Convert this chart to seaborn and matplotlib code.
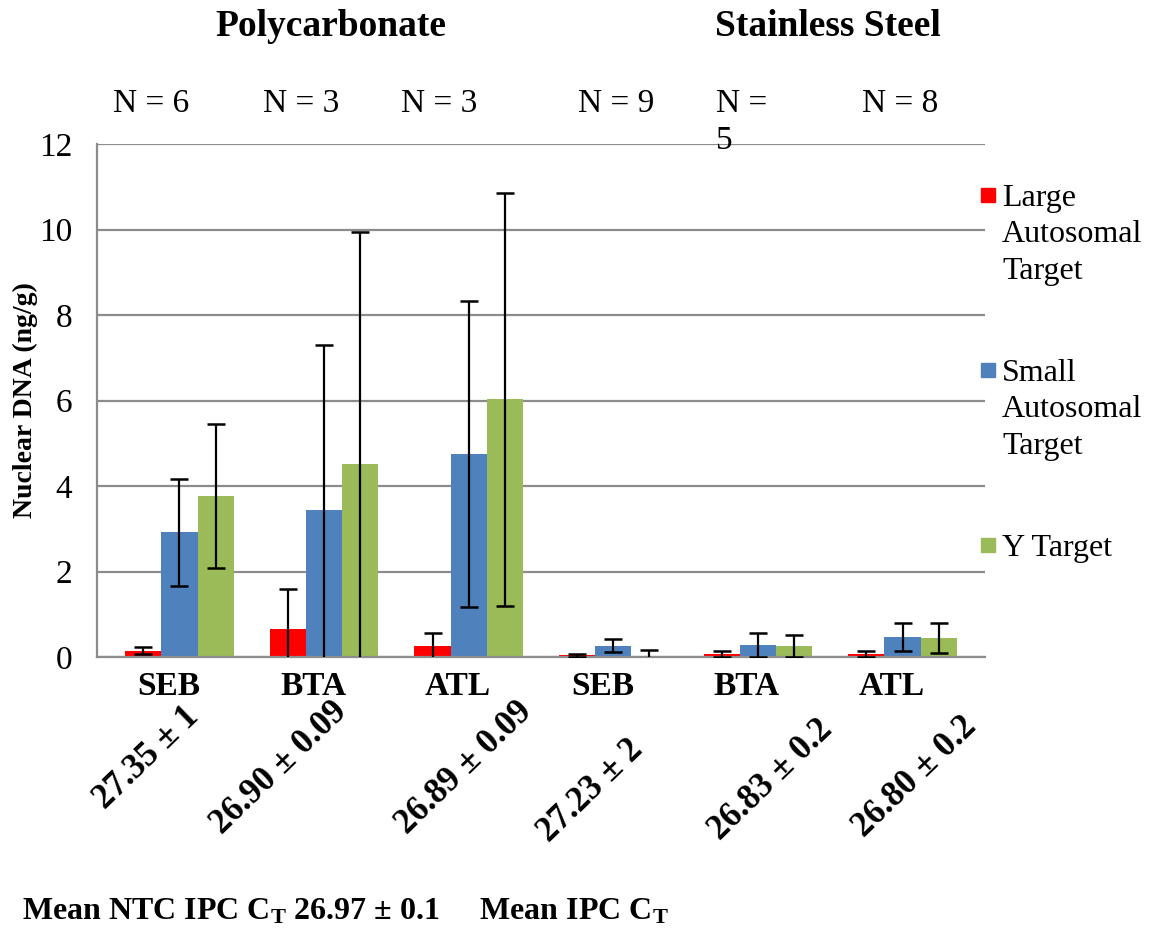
import numpy as np
import pandas as pd
import matplotlib
matplotlib.use("Agg")
import matplotlib.pyplot as plt
import matplotlib.transforms as mtransforms
from matplotlib.patches import Rectangle
import seaborn as sns

# ---------------- data ----------------
materials = ["Polycarbonate", "Stainless Steel"]
groups = ["SEB", "BTA", "ATL", "SEB", "BTA", "ATL"]
n_labels = ["N = 6", "N = 3", "N = 3", "N = 9", "N =\n5", "N = 8"]
ct_labels = ["27.35 ± 1", "26.90 ± 0.09", "26.89 ± 0.09",
             "27.23 ± 2", "26.83 ± 0.2", "26.80 ± 0.2"]
series = ["Large\nAutosomal\nTarget", "Small\nAutosomal\nTarget", "Y Target"]
large = [0.15, 0.65, 0.26, 0.04, 0.07, 0.07]
large_err = [0.08, 0.94, 0.30, 0.04, 0.08, 0.08]
small = [2.92, 3.44, 4.75, 0.26, 0.28, 0.47]
small_err = [1.25, 3.86, 3.58, 0.15, 0.27, 0.32]
ytarget = [3.77, 4.51, 6.03, 0.02, 0.26, 0.44]
ytarget_err = [1.69, 5.43, 4.83, 0.14, 0.26, 0.35]
y_ticks = [0, 2, 4, 6, 8, 10, 12]
y_label = "Nuclear DNA (ng/g)"
footer = "Mean NTC IPC C$_\\mathrm{T}$ 26.97 ± 0.1     Mean IPC C$_\\mathrm{T}$"
colors = ["#FF0000", "#4F81BD", "#9BBB59"]

# ---------------- style ----------------
sns.set_theme(style="white")
plt.rcParams["font.family"] = ["Liberation Serif", "DejaVu Serif"]
plt.rcParams["text.color"] = "black"
plt.rcParams["axes.labelcolor"] = "black"
plt.rcParams["xtick.color"] = "black"
plt.rcParams["ytick.color"] = "black"
plt.rcParams["mathtext.fontset"] = "custom"
plt.rcParams["mathtext.rm"] = "Liberation Serif:bold"
plt.rcParams["mathtext.bf"] = "Liberation Serif:bold"
plt.rcParams["mathtext.it"] = "Liberation Serif:bold"

W, H = 1152, 932
fig = plt.figure(figsize=(W / 100, H / 100), dpi=100)
fig.patch.set_facecolor("white")
ax = fig.add_axes([97 / W, 1 - 657 / H, 888 / W, 513 / H])

keys = [f"g{i}" for i in range(len(groups))]
df = pd.DataFrame({
    "group": keys * 3,
    "series": np.repeat(series, len(keys)),
    "value": large + small + ytarget,
})
sns.barplot(data=df, x="group", y="value", hue="series", order=keys,
            hue_order=series, palette=colors, saturation=1, width=0.75,
            errorbar=None, legend=False, ax=ax, zorder=2, linewidth=0)

for cont, errs in zip(ax.containers, [large_err, small_err, ytarget_err]):
    xs = [b.get_x() + b.get_width() / 2 for b in cont]
    ys = [b.get_height() for b in cont]
    ax.errorbar(xs, ys, yerr=errs, fmt="none", ecolor="black",
                elinewidth=1.6, capsize=6.5, capthick=1.8, zorder=3)

ax.set_xlim(-0.57, len(keys) - 1 + 0.57)
ax.set_ylim(0, 12)
ax.set_yticks(y_ticks)
ax.set_yticklabels([str(t) for t in y_ticks], fontsize=24)
ax.set_xticks(range(len(keys)))
ax.set_xticklabels(groups, fontsize=24, fontweight="bold")
ax.tick_params(axis="y", length=0, pad=18)
ax.tick_params(axis="x", length=0, pad=10)
off = mtransforms.ScaledTranslation(-11 / 100, 0, fig.dpi_scale_trans)
for lbl in ax.get_xticklabels():
    lbl.set_transform(lbl.get_transform() + off)
ax.set_xlabel("")
ax.set_ylabel("")
ax.yaxis.grid(True, color="#8C8C8C", linewidth=1.6)
ax.set_axisbelow(True)
for s in ["top", "right"]:
    ax.spines[s].set_visible(False)
for s in ["left", "bottom"]:
    ax.spines[s].set_color("#8C8C8C")
    ax.spines[s].set_linewidth(1.6)

# ---------------- annotations ----------------
def fx(px):
    return px / W

def fy(py):
    return 1 - py / H

fig.text(fx(331), fy(27), materials[0], ha="center", va="center",
         fontsize=27, fontweight="bold")
fig.text(fx(828), fy(27), materials[1], ha="center", va="center",
         fontsize=27, fontweight="bold")

n_x = [151, 301, 439, 616, 716, 900]
for i, (lab, x) in enumerate(zip(n_labels, n_x)):
    if "\n" in lab:
        fig.text(fx(x), fy(88), lab, ha="left", va="top", fontsize=24,
                 linespacing=1.3)
    else:
        fig.text(fx(x), fy(104), lab, ha="center", va="center", fontsize=24)

ct_pos = [(194, 712), (342, 707), (527, 707), (638, 745), (828, 725), (972, 722)]
for lab, (x, y) in zip(ct_labels, ct_pos):
    fig.text(fx(x), fy(y), lab, ha="right", va="center", rotation=44,
             rotation_mode="anchor", fontsize=25, fontweight="bold")

fig.text(fx(25), fy(400), y_label, ha="center", va="center", rotation=90,
         fontsize=20, fontweight="bold")

fig.text(fx(22), fy(912), footer, ha="left", va="center", fontsize=23,
         fontweight="bold")

# legend (Excel style: marker aligned with first text line)
leg_y = [195, 370, 545]
for lab, c, y in zip(series, colors, leg_y):
    fig.patches.append(Rectangle((fx(981), fy(y + 7)), 14 / W, 14 / H,
                                 transform=fig.transFigure, color=c))
    fig.text(fx(1002), fy(y - 11), lab, ha="left", va="top", fontsize=23,
             linespacing=1.34)

fig.savefig("out.png", dpi=100)
